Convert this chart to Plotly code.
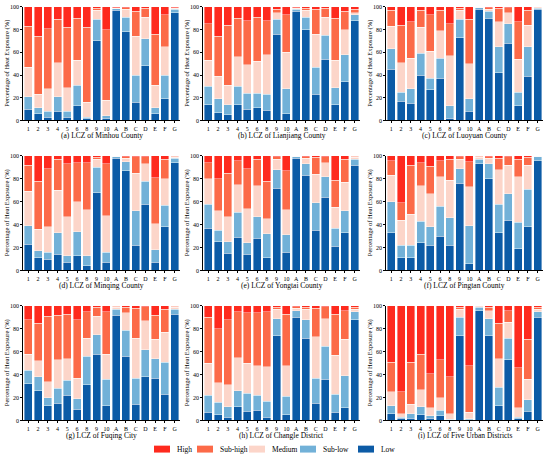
import plotly.graph_objects as go

# LCZ classes on the x axis (no LCZ 7 in the study area)
LCZ = ["1", "2", "3", "4", "5", "6", "8", "9", "10", "A", "B", "C", "D", "E", "F", "G"]

# Share of each heat exposure level (%) per LCZ
MINHOU_LOW = [10, 6, 3, 8, 3, 13, 2, 70, 2, 97, 78, 16, 48, 6, 19, 95]
MINHOU_SUBLOW = [11, 5, 5, 13, 5, 18, 1, 19, 2, 1.5, 13, 24, 24, 5, 21, 3]
MINHOU_MEDIUM = [26, 12, 20, 30, 21, 22, 13, 8, 14, 0.5, 7, 34, 19, 20, 25, 1]
MINHOU_SUBHIGH = [36, 51, 53, 38, 53, 37, 66, 2, 62, 0.5, 1.5, 22, 8, 45, 28, 0.5]
MINHOU_HIGH = [17, 26, 19, 11, 18, 10, 18, 1, 20, 0.5, 0.5, 4, 1, 24, 7, 0.5]

LIANJIANG_LOW = [14, 7, 5, 14, 10, 11, 9, 76, 6, 96, 80, 23, 54, 14, 34, 88]
LIANJIANG_SUBLOW = [16, 12, 9, 16, 14, 13, 14, 13, 22, 2, 11, 24, 21, 15, 24, 5]
LIANJIANG_MEDIUM = [23, 20, 17, 26, 25, 28, 35, 6, 32, 1, 6, 29, 16, 24, 22, 2]
LIANJIANG_SUBHIGH = [32, 35, 53, 34, 39, 39, 30, 3, 33, 0.5, 2, 22, 8, 37, 16, 3]
LIANJIANG_HIGH = [15, 26, 16, 10, 12, 9, 12, 2, 7, 0.5, 1, 2, 1, 10, 4, 2]

LUOYUAN_LOW = [45, 17, 15, 40, 27, 37, 2, 73, 8, 98, 90, 42, 68, 13, 39, 98]
LUOYUAN_SUBLOW = [18, 8, 13, 19, 10, 18, 11, 16, 11, 1.5, 6, 23, 17, 12, 26, 1]
LUOYUAN_MEDIUM = [20, 26, 27, 23, 24, 24, 44, 8, 31, 0.3, 2, 22, 10, 29, 19, 0.5]
LUOYUAN_SUBHIGH = [14, 33, 32, 15, 32, 18, 28, 2, 39, 0.1, 1.5, 12, 4.5, 33, 13, 0.3]
LUOYUAN_HIGH = [3, 16, 13, 3, 7, 3, 15, 1, 11, 0.1, 0.5, 1, 0.5, 13, 3, 0.2]

MINQING_LOW = [23, 11, 10, 14, 7, 13, 4, 68, 7, 98, 87, 22, 58, 7, 38, 94]
MINQING_SUBLOW = [16, 6, 6, 19, 6, 21, 9, 22, 9, 1.5, 8, 30, 20, 11, 19, 4]
MINQING_MEDIUM = [30, 19, 22, 37, 34, 26, 40, 7, 32, 0.3, 3, 33, 15, 23, 23, 1]
MINQING_SUBHIGH = [23, 42, 51, 27, 46, 34, 41, 2, 45, 0.1, 1.5, 14.5, 6.5, 40, 17, 0.7]
MINQING_HIGH = [8, 22, 11, 3, 7, 6, 6, 1, 7, 0.1, 0.5, 0.5, 0.5, 19, 3, 0.3]

YONGTAI_LOW = [37, 25, 15, 29, 14, 28, 11, 72, 16, 98, 83, 35, 64, 21, 33, 92]
YONGTAI_SUBLOW = [21, 10, 10, 22, 10, 19, 21, 16, 15, 1.5, 10, 24, 18, 16, 19, 5]
YONGTAI_MEDIUM = [22, 17, 22, 24, 30, 27, 13, 9, 22, 0.3, 5, 25, 12, 18, 25, 2]
YONGTAI_SUBHIGH = [14, 28, 38, 21, 35, 23, 33, 2.5, 34, 0.1, 1.5, 15, 5.5, 24, 20, 0.7]
YONGTAI_HIGH = [6, 20, 15, 4, 11, 3, 22, 0.5, 13, 0.1, 0.5, 1, 0.5, 21, 3, 0.3]

PINGTAN_LOW = [33, 11, 11, 24, 22, 30, 22, 76, 6, 93, 80, 33, 44, 19, 38, 96]
PINGTAN_SUBLOW = [27, 11, 11, 19, 16, 26, 24, 13, 33, 4, 13, 25, 23, 23, 33, 3.5]
PINGTAN_MEDIUM = [23, 22, 27, 31, 29, 26, 33, 8, 34, 2, 5, 30, 25, 40, 21, 0.3]
PINGTAN_SUBHIGH = [13, 15, 43, 20, 24, 14, 18, 2.5, 22, 0.7, 1.5, 10, 7.5, 15, 7, 0.1]
PINGTAN_HIGH = [4, 41, 8, 6, 9, 4, 3, 0.5, 5, 0.3, 0.5, 2, 0.5, 3, 1, 0.1]

FUQING_LOW = [32, 26, 13, 15, 22, 10, 31, 58, 13, 92, 56, 14, 38, 37, 23, 93]
FUQING_SUBLOW = [12, 12, 7, 13, 13, 9, 25, 17, 23, 5, 23, 23, 24, 17, 28, 4]
FUQING_MEDIUM = [14, 14, 14, 25, 19, 18, 16, 16, 22, 2, 15, 35, 25, 17, 26, 2]
FUQING_SUBHIGH = [30, 33, 57, 39, 39, 51, 23, 8, 37, 0.7, 5, 26, 12.5, 21, 20, 0.7]
FUQING_HIGH = [12, 15, 9, 8, 7, 12, 5, 1, 5, 0.3, 1, 2, 0.5, 8, 3, 0.3]

CHANGLE_LOW = [7, 5, 3, 12, 8, 9, 3, 74, 5, 90, 72, 15, 36, 7, 11, 88]
CHANGLE_SUBLOW = [15, 11, 9, 14, 16, 13, 14, 15, 16, 6, 16, 22, 29, 16, 28, 7]
CHANGLE_MEDIUM = [28, 17, 19, 29, 26, 26, 30, 8, 27, 2, 9, 36, 24, 34, 32, 2]
CHANGLE_SUBHIGH = [40, 47, 57, 40, 44, 46, 48, 2, 45, 1.5, 2, 25, 10.5, 36, 25, 2]
CHANGLE_HIGH = [10, 20, 12, 5, 6, 6, 5, 1, 7, 0.5, 1, 2, 0.5, 7, 4, 1]

URBAN_LOW = [6, 2, 2, 5, 2, 4, 0.5, 74, 0.5, 96, 74, 13, 53, 2, 8, 90]
URBAN_SUBLOW = [7, 1, 4, 7, 2, 5, 0.5, 16, 1, 3, 15, 16, 19, 1, 10, 5]
URBAN_MEDIUM = [12, 3, 8, 15, 7, 11, 5, 7, 5.5, 0.5, 7, 25, 14, 8, 18, 2]
URBAN_SUBHIGH = [26, 19, 37, 31, 30, 33, 32, 2, 41, 0.3, 3, 31, 10, 35, 35, 2]
URBAN_HIGH = [49, 75, 49, 42, 59, 47, 62, 1, 52, 0.2, 1, 15, 4, 54, 29, 1]

PANEL_TITLES = [
    "(a) LCZ of Minhou County", "(b) LCZ of Lianjiang County", "(c) LCZ of Luoyuan County",
    "(d) LCZ of Minqing County", "(e) LCZ of Yongtai County", "(f) LCZ of Pingtan County",
    "(g) LCZ of Fuqing City", "(h) LCZ of Changle District", "(i) LCZ of Five Urban Districts",
]

LEVELS = ["Low", "Sub-low", "Medium", "Sub-high", "High"]
COLORS = ["#0c5ba6", "#72b1d8", "#fcd5c9", "#fc6a48", "#fe2a1e"]

panels = [
    [MINHOU_LOW, MINHOU_SUBLOW, MINHOU_MEDIUM, MINHOU_SUBHIGH, MINHOU_HIGH],
    [LIANJIANG_LOW, LIANJIANG_SUBLOW, LIANJIANG_MEDIUM, LIANJIANG_SUBHIGH, LIANJIANG_HIGH],
    [LUOYUAN_LOW, LUOYUAN_SUBLOW, LUOYUAN_MEDIUM, LUOYUAN_SUBHIGH, LUOYUAN_HIGH],
    [MINQING_LOW, MINQING_SUBLOW, MINQING_MEDIUM, MINQING_SUBHIGH, MINQING_HIGH],
    [YONGTAI_LOW, YONGTAI_SUBLOW, YONGTAI_MEDIUM, YONGTAI_SUBHIGH, YONGTAI_HIGH],
    [PINGTAN_LOW, PINGTAN_SUBLOW, PINGTAN_MEDIUM, PINGTAN_SUBHIGH, PINGTAN_HIGH],
    [FUQING_LOW, FUQING_SUBLOW, FUQING_MEDIUM, FUQING_SUBHIGH, FUQING_HIGH],
    [CHANGLE_LOW, CHANGLE_SUBLOW, CHANGLE_MEDIUM, CHANGLE_SUBHIGH, CHANGLE_HIGH],
    [URBAN_LOW, URBAN_SUBLOW, URBAN_MEDIUM, URBAN_SUBHIGH, URBAN_HIGH],
]

FONT = "Liberation Serif"
W, H = 550, 460

# pixel boxes of the plot areas
col_px = [(23, 180), (203, 360), (386, 543)]
row_px = [(4, 119), (155, 271), (307, 423)]

fig = go.Figure()
layout = {}
annotations = []
shapes = []

for i, series in enumerate(panels):
    r, c = divmod(i, 3)
    n = "" if i == 0 else str(i + 1)
    for level, color, vals in zip(LEVELS, COLORS, series):
        fig.add_trace(go.Bar(
            x=LCZ, y=vals, name=level,
            marker=dict(color=color, line=dict(color="white", width=0.4)),
            xaxis="x" + n, yaxis="y" + n,
            showlegend=False,
        ))
    x0, x1 = col_px[c]
    y0, y1 = row_px[r]
    layout["xaxis" + n] = dict(
        domain=[x0 / W, x1 / W], anchor="y" + n,
        type="category", range=[-0.55, 15.55],
        showline=True, linecolor="black", linewidth=0.8,
        ticks="outside", ticklen=2, tickwidth=0.6, tickcolor="black",
        tickfont=dict(family=FONT, size=6, color="black"),
        showgrid=False,
    )
    layout["yaxis" + n] = dict(
        domain=[1 - y1 / H, 1 - y0 / H], anchor="x" + n,
        range=[0, 100], tickvals=[0, 20, 40, 60, 80, 100],
        showline=True, linecolor="black", linewidth=0.8,
        ticks="outside", ticklen=2, tickwidth=0.6, tickcolor="black",
        tickfont=dict(family=FONT, size=6, color="black"),
        showgrid=False, zeroline=False,
    )
    # y axis title, placed by hand so it stays clear of the panel on its left
    annotations.append(dict(
        text="Percentage of Heat Exposure (%)", xref="paper", yref="paper",
        x=(x0 - 16) / W, y=1 - (y0 + y1) / 2 / H, textangle=-90,
        xanchor="center", yanchor="middle", showarrow=False,
        font=dict(family=FONT, size=6.5, color="black"),
    ))
    # panel caption below the category labels
    annotations.append(dict(
        text=PANEL_TITLES[i], xref="paper", yref="paper",
        x=(x0 + x1) / 2 / W, y=1 - (y1 + 15.5) / H,
        xanchor="center", yanchor="middle", showarrow=False,
        font=dict(family=FONT, size=7.5, color="black"),
    ))

# legend drawn by hand: wide flat swatches with the label right next to them
legend_order = ["High", "Sub-high", "Medium", "Sub-low", "Low"]
legend_x = [154, 197, 249, 300, 358]
legend_y = 452
for name, lx in zip(legend_order, legend_x):
    color = COLORS[LEVELS.index(name)]
    shapes.append(dict(
        type="rect", xref="paper", yref="paper",
        x0=lx / W, x1=(lx + 16) / W,
        y0=1 - (legend_y + 3.5) / H, y1=1 - (legend_y - 3.5) / H,
        fillcolor=color, line=dict(width=0),
    ))
    annotations.append(dict(
        text=name, xref="paper", yref="paper",
        x=(lx + 21) / W, y=1 - legend_y / H,
        xanchor="left", yanchor="middle", showarrow=False,
        font=dict(family=FONT, size=7.5, color="black"),
    ))

fig.update_layout(
    **layout,
    annotations=annotations,
    shapes=shapes,
    barmode="stack",
    bargap=0.18,
    width=W, height=H,
    margin=dict(l=0, r=0, t=0, b=0),
    plot_bgcolor="white",
    paper_bgcolor="white",
    font=dict(family=FONT, size=7, color="black"),
    showlegend=False,
)

# the page body has a default 8px margin; drop it so the figure fills the window
fig.write_html(
    "out.html",
    config={"displayModeBar": False},
    post_script="document.body.style.margin='0';document.body.style.overflow='hidden';",
)
